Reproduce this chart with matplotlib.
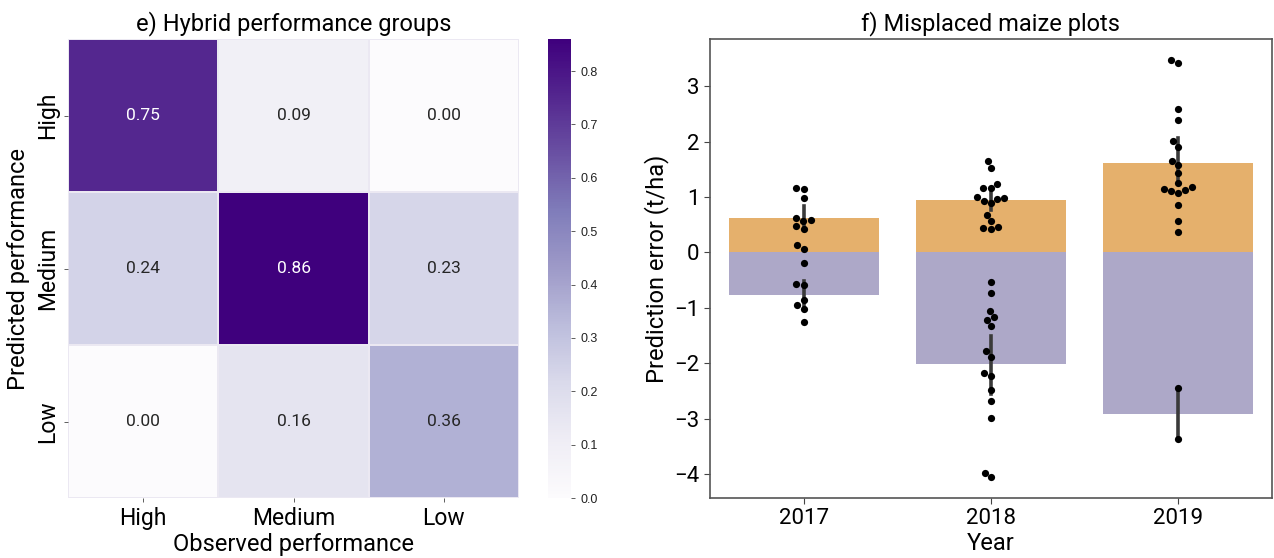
import numpy as np
import pandas as pd
import matplotlib
matplotlib.use("Agg")
import matplotlib.pyplot as plt
import seaborn as sns

# ---- confusion matrix of hybrid performance groups ----
groups = ["High", "Medium", "Low"]
conf_matrix = [
    [0.75, 0.09, 0.00],
    [0.24, 0.86, 0.23],
    [0.00, 0.16, 0.36],
]
cbar_ticks = [0.0, 0.1, 0.2, 0.3, 0.4, 0.5, 0.6, 0.7, 0.8]

# ---- prediction errors of misplaced maize plots (t/ha) ----
years = ["2017", "2018", "2019"]
err_2017 = [1.17, 1.14, 0.99, 0.62, 0.59, 0.56, 0.47, 0.43, 0.14, 0.07,
            -0.19, -0.57, -0.59, -0.85, -0.95, -1.02, -1.25]
err_2018 = [1.65, 1.53, 1.24, 1.17, 1.16, 1.00, 0.99, 0.97, 0.93, 0.89,
            0.68, 0.57, 0.45, 0.44, 0.43,
            -0.54, -0.74, -1.05, -1.16, -1.21, -1.32, -1.78, -1.88,
            -2.18, -2.22, -2.49, -2.68, -2.98, -3.98, -4.05]
err_2019 = [3.48, 3.42, 2.59, 2.39, 2.01, 1.91, 1.65, 1.58, 1.43, 1.25,
            1.18, 1.15, 1.12, 1.10, 1.08, 0.85, 0.57, 0.36,
            -2.45, -3.37]
yticks_err = [-4, -3, -2, -1, 0, 1, 2, 3]

ORANGE = "#e5b06c"
PURPLE = "#ada8c8"
FONT = ["Roboto", "DejaVu Sans"]

plt.rcParams["font.family"] = FONT
plt.rcParams["axes.unicode_minus"] = True

fig = plt.figure(figsize=(12.74, 5.58), dpi=100)
ax_hm = fig.add_axes([0.0534, 0.1075, 0.354, 0.8226])
ax_cb = fig.add_axes([0.4301, 0.1075, 0.0181, 0.8226])
ax_bar = fig.add_axes([0.5573, 0.1075, 0.4410, 0.8226])

# ---- left: heatmap ----
cm = pd.DataFrame(conf_matrix, index=groups, columns=groups)
sns.heatmap(cm, ax=ax_hm, cbar_ax=ax_cb, cmap="Purples", annot=True, fmt=".2f",
            annot_kws={"fontsize": 12.5, "family": FONT},
            linewidths=0.25, linecolor="#ebe8f2")
ax_hm.set_title("e) Hybrid performance groups", fontsize=17, pad=6)
ax_hm.set_xlabel("Observed performance", fontsize=17, labelpad=2)
ax_hm.set_ylabel("Predicted performance", fontsize=17, labelpad=4)
ax_hm.set_xticklabels(groups, fontsize=16.5, rotation=0)
ax_hm.set_yticklabels(groups, fontsize=16.5, rotation=90, va="center")
ax_hm.tick_params(length=3, width=0.6, color="#444444")

ax_cb.set_yticks(cbar_ticks)
ax_cb.set_yticklabels([f"{t:.1f}" for t in cbar_ticks],
                      fontsize=9, family="Liberation Sans", color="#222222")
ax_cb.tick_params(length=3, width=0.6, color="#444444")
for s in ax_cb.spines.values():
    s.set_visible(False)

# ---- right: mean positive / negative errors with individual plots ----
rows = []
for yr, vals in zip(years, [err_2017, err_2018, err_2019]):
    for v in vals:
        rows.append((yr, v))
df = pd.DataFrame(rows, columns=["Year", "err"])
pos = df[df["err"] > 0]
neg = df[df["err"] < 0]

err_style = {"color": "#3a3a3a", "linewidth": 2.6}
sns.barplot(data=pos, x="Year", y="err", order=years, color=ORANGE,
            saturation=1, errorbar=("ci", 95), seed=3, err_kws=err_style,
            ax=ax_bar)
sns.barplot(data=neg, x="Year", y="err", order=years, color=PURPLE,
            saturation=1, errorbar=("ci", 95), seed=3, err_kws=err_style,
            ax=ax_bar)
sns.swarmplot(data=df, x="Year", y="err", order=years, color="black",
              size=5.2, ax=ax_bar)

ax_bar.set_xlim(-0.5, 2.5)
ax_bar.set_ylim(-4.43, 3.85)
ax_bar.set_yticks(yticks_err)
ax_bar.set_title("f) Misplaced maize plots", fontsize=17, pad=6)
ax_bar.set_xlabel("Year", fontsize=17, labelpad=2)
ax_bar.set_ylabel("Prediction error (t/ha)", fontsize=17, labelpad=4)
ax_bar.tick_params(labelsize=16, length=4, width=0.8, color="#444444")
for s in ax_bar.spines.values():
    s.set_color("#555555")
    s.set_linewidth(1.2)

fig.savefig("out.png", dpi=100)
